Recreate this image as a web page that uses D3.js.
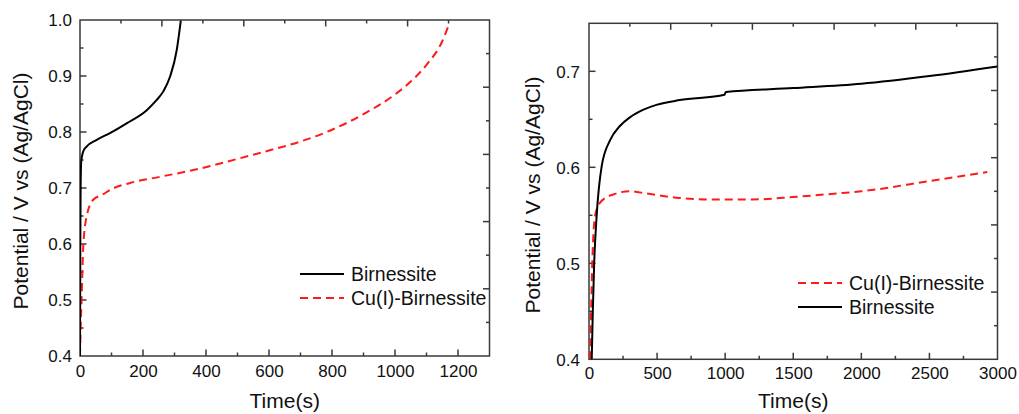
<!DOCTYPE html>
<html>
<head>
<meta charset="utf-8">
<script src="https://cdn.jsdelivr.net/npm/d3@7"></script>
<style>
  html, body { margin: 0; padding: 0; background: #fff; }
  svg { display: block; font-family: "Liberation Sans", Arial, sans-serif; }
</style>
</head>
<body>
<svg id="chart" width="1019" height="414"></svg>
<script>
// ---------- Data ----------
// Left panel
const leftXTicks = [0, 200, 400, 600, 800, 1000, 1200];
const leftYTicks = [0.4, 0.5, 0.6, 0.7, 0.8, 0.9, 1.0];
const leftBirnT = [0, 1, 2, 4, 10, 21, 53, 95, 148, 212, 240, 265, 286, 307, 320];
const leftBirnV = [0.40, 0.60, 0.70, 0.748, 0.765, 0.774, 0.786, 0.798, 0.8155, 0.839, 0.855, 0.873, 0.899, 0.946, 0.999];
const leftCuT = [0, 2, 5, 10.6, 21, 42, 69, 106, 159, 254, 360, 500, 600, 700, 800, 900, 1000, 1050, 1100, 1150, 1170];
const leftCuV = [0.40, 0.45, 0.50, 0.598, 0.649, 0.679, 0.6875, 0.6995, 0.709, 0.72, 0.732, 0.752, 0.767, 0.783, 0.804, 0.832, 0.867, 0.89, 0.92, 0.962, 0.99];

// Right panel
const rightXTicks = [0, 500, 1000, 1500, 2000, 2500, 3000];
const rightYTicks = [0.4, 0.5, 0.6, 0.7];
const rightBirnT = [20, 28, 38, 56, 93, 154, 227, 300, 400, 495, 666, 995, 1005, 1500, 2000, 2500, 3000];
const rightBirnV = [0.40, 0.45, 0.50, 0.549, 0.601, 0.628, 0.643, 0.652, 0.660, 0.665, 0.670, 0.6755, 0.6785, 0.6825, 0.687, 0.695, 0.705];
const rightCuT = [7, 15, 24, 44, 80, 178, 300, 422, 666, 900, 1200, 1500, 1800, 2000, 2500, 2925];
const rightCuV = [0.40, 0.448, 0.50, 0.549, 0.563, 0.5717, 0.575, 0.5727, 0.568, 0.5665, 0.5665, 0.569, 0.5725, 0.575, 0.5857, 0.595];

const seriesNames = ["Birnessite", "Cu(I)-Birnessite"];

// ---------- Drawing ----------
const svg = d3.select("#chart");
const AXIS = "#3a3a3a";

function zip(t, v) { return t.map((d, i) => [d, v[i]]); }

function panel(cfg) {
  const x = d3.scaleLinear().domain(cfg.xDomain).range([cfg.left, cfg.right]);
  const y = d3.scaleLinear().domain(cfg.yDomain).range([cfg.bottom, cfg.top]);
  const g = svg.append("g");
  const id = "clip" + cfg.name;
  svg.append("clipPath").attr("id", id).append("rect")
    .attr("x", cfg.left).attr("y", cfg.top - 1)
    .attr("width", cfg.right - cfg.left).attr("height", cfg.bottom - cfg.top + 1);

  // frame
  g.append("rect")
    .attr("x", cfg.left).attr("y", cfg.top)
    .attr("width", cfg.right - cfg.left).attr("height", cfg.bottom - cfg.top)
    .attr("fill", "none").attr("stroke", AXIS).attr("stroke-width", 1.5);

  const MAJ = 6.5, MIN = 3.5;
  const xMinorVals = d3.range(cfg.xDomain[0], cfg.xDomain[1] + 1e-9, cfg.xMinor)
    .filter(v => !cfg.xTicks.some(t => Math.abs(t - v) < 1e-6));
  const bottomAxis = d3.axisBottom(x).tickValues(cfg.xTicks).tickSize(0).tickPadding(0).tickFormat(d3.format("d"));
  const bAx = g.append("g").attr("transform", `translate(0,${cfg.bottom})`).call(bottomAxis);
  bAx.select(".domain").remove();
  bAx.selectAll("text").attr("font-size", 17).attr("fill", "#111").attr("y", cfg.xLabelDy).attr("dy", 0)
    .attr("font-family", "Liberation Sans, Arial, sans-serif");
  cfg.xTicks.forEach(v => {
    if (v > cfg.xDomain[0] && v < cfg.xDomain[1])
      g.append("line").attr("x1", x(v)).attr("x2", x(v)).attr("y1", cfg.bottom).attr("y2", cfg.bottom - MAJ).attr("stroke", AXIS).attr("stroke-width", 1.5);
  });
  xMinorVals.forEach(v => {
    if (v > cfg.xDomain[0] && v < cfg.xDomain[1])
      g.append("line").attr("x1", x(v)).attr("x2", x(v)).attr("y1", cfg.bottom).attr("y2", cfg.bottom - MIN).attr("stroke", AXIS).attr("stroke-width", 1.5);
  });

  // left axis
  const leftAxis = d3.axisLeft(y).tickValues(cfg.yTicks).tickSize(0).tickPadding(0).tickFormat(d3.format(".1f"));
  const lAx = g.append("g").attr("transform", `translate(${cfg.left},0)`).call(leftAxis);
  lAx.select(".domain").remove();
  lAx.selectAll("text").attr("font-size", 17).attr("fill", "#111").attr("x", -cfg.yLabelDx).attr("dy", "0.35em")
    .attr("font-family", "Liberation Sans, Arial, sans-serif");
  const yMinorVals = d3.range(cfg.yDomain[0], cfg.yDomain[1] + 1e-9, cfg.yMinor)
    .filter(v => !cfg.yTicks.some(t => Math.abs(t - v) < 1e-6));
  cfg.yTicks.forEach(v => {
    if (v > cfg.yDomain[0] + 1e-9 && v < cfg.yDomain[1] - 1e-9)
      g.append("line").attr("x1", cfg.left).attr("x2", cfg.left + MAJ).attr("y1", y(v)).attr("y2", y(v)).attr("stroke", AXIS).attr("stroke-width", 1.5);
  });
  yMinorVals.forEach(v => {
    if (v > cfg.yDomain[0] + 1e-9 && v < cfg.yDomain[1] - 1e-9)
      g.append("line").attr("x1", cfg.left).attr("x2", cfg.left + MIN).attr("y1", y(v)).attr("y2", y(v)).attr("stroke", AXIS).attr("stroke-width", 1.5);
  });

  // top & right mirror axes: 10 equal divisions, major at even ones
  for (let k = 1; k < 10; k++) {
    const px = cfg.left + (cfg.right - cfg.left) * k / 10;
    const len = (k % 2 === 0) ? MAJ : MIN;
    g.append("line").attr("x1", px).attr("x2", px).attr("y1", cfg.top).attr("y2", cfg.top + len).attr("stroke", AXIS).attr("stroke-width", 1.5);
    const py = cfg.bottom - (cfg.bottom - cfg.top) * k / 10;
    g.append("line").attr("x1", cfg.right).attr("x2", cfg.right - len).attr("y1", py).attr("y2", py).attr("stroke", AXIS).attr("stroke-width", 1.5);
  }

  // titles
  g.append("text").attr("x", (cfg.left + cfg.right) / 2).attr("y", cfg.xTitleY)
    .attr("text-anchor", "middle").attr("font-size", 21).attr("fill", "#111").text("Time(s)");
  g.append("text").attr("transform", `translate(${cfg.yTitleX},${cfg.yTitleY}) rotate(-90)`)
    .attr("text-anchor", "middle").attr("font-size", 21).attr("fill", "#111").text("Potential / V vs (Ag/AgCl)");

  // lines
  const line = d3.line().x(d => x(d[0])).y(d => y(d[1])).curve(d3.curveMonotoneX);
  const lines = g.append("g").attr("clip-path", `url(#${id})`);
  cfg.series.forEach(s => {
    lines.append("path").datum(s.data).attr("d", line)
      .attr("fill", "none").attr("stroke", s.color).attr("stroke-width", 2)
      .attr("stroke-dasharray", s.dash || null);
  });

  // legend
  cfg.legend.forEach((s, i) => {
    const ly = cfg.legendY + i * cfg.legendGap;
    g.append("line").attr("x1", cfg.legendX).attr("x2", cfg.legendX + 44).attr("y1", ly).attr("y2", ly)
      .attr("stroke", s.color).attr("stroke-width", 2).attr("stroke-dasharray", s.dash || null);
    g.append("text").attr("x", cfg.legendX + 51).attr("y", ly + 7).attr("font-size", 19.5).attr("fill", "#111").text(s.name);
  });
}

const leftBirn = { name: seriesNames[0], color: "#000", data: zip(leftBirnT, leftBirnV) };
const leftCu = { name: seriesNames[1], color: "#ff1a1a", dash: "8,5", data: zip(leftCuT, leftCuV) };
const rightBirn = { name: seriesNames[0], color: "#000", data: zip(rightBirnT, rightBirnV) };
const rightCu = { name: seriesNames[1], color: "#ff1a1a", dash: "8,5", data: zip(rightCuT, rightCuV) };

panel({
  name: "L", left: 80, right: 489.5, top: 20, bottom: 356,
  xDomain: [0, 1300], yDomain: [0.4, 1.0], xTicks: leftXTicks, yTicks: leftYTicks,
  xMinor: 100, yMinor: 0.05, xLabelDy: 21, yLabelDx: 8,
  xTitleY: 408, yTitleX: 28, yTitleY: 191,
  series: [leftCu, leftBirn], legend: [leftBirn, leftCu],
  legendX: 300, legendY: 274, legendGap: 24
});

panel({
  name: "R", left: 589, right: 997.5, top: 23.3, bottom: 359.3,
  xDomain: [0, 3000], yDomain: [0.4, 0.75], xTicks: rightXTicks, yTicks: rightYTicks,
  xMinor: 250, yMinor: 0.05, xLabelDy: 20, yLabelDx: 9,
  xTitleY: 408, yTitleX: 540, yTitleY: 195,
  series: [rightCu, rightBirn], legend: [rightCu, rightBirn],
  legendX: 798, legendY: 283, legendGap: 24
});
</script>
</body>
</html>
